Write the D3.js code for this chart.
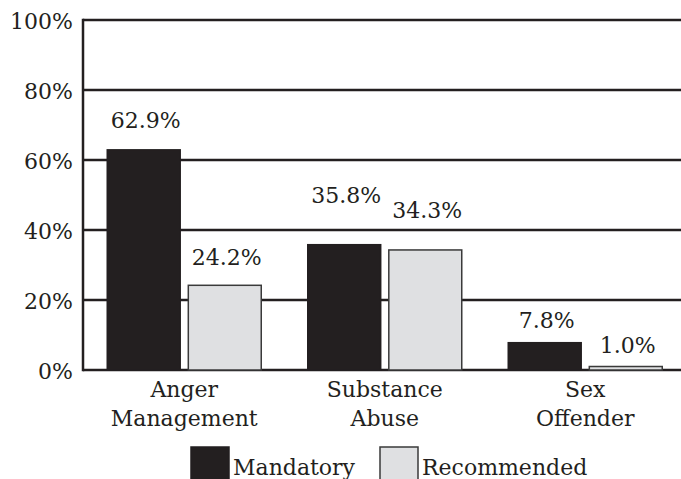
<!DOCTYPE html>
<html>
<head>
<meta charset="utf-8">
<script src="https://cdn.jsdelivr.net/npm/d3@7"></script>
<style>
  html, body { margin: 0; padding: 0; background: #fff; }
  svg { display: block; }
</style>
</head>
<body>
<div id="chart"></div>
<script>
// ── Datos ────────────────────────────────────────────────────────────────
const categories = [["Anger", "Management"], ["Substance", "Abuse"], ["Sex", "Offender"]];
const series = ["Mandatory", "Recommended"];
const mandatory = [62.9, 35.8, 7.8];
const recommended = [24.2, 34.3, 1.0];
const yTicks = [0, 20, 40, 60, 80, 100];

// cuánto sube cada etiqueta sobre su barra (px), en orden de barras
const labelLift = [[22, 20], [42, 32], [15, 14]];

const width = 681;
const height = 479;
const fontSize = 22;
const fontFamily = "'DejaVu Serif', serif";
const ink = "#231f20";
const colors = { Mandatory: "#231f20", Recommended: "#dfe0e2" };
const strokes = { Mandatory: "#231f20", Recommended: "#3a3a3a" };

const svg = d3.select("#chart")
  .append("svg")
  .attr("width", width)
  .attr("height", height)
  .attr("viewBox", [0, 0, width, height])
  .attr("font-family", fontFamily)
  .attr("fill", ink);

// ── Escalas ──────────────────────────────────────────────────────────────
const y = d3.scaleLinear().domain([0, 100]).range([370, 20]);
const keys = categories.map(c => c.join(" "));
const x0 = d3.scaleBand().domain(keys).range([84, 685.5]);
const x1 = d3.scaleBand().domain(series).range([23.25, 177.25]).paddingInner(0.1);

const filas = keys.map((k, i) => ({
  key: k,
  lines: categories[i],
  values: [
    { serie: "Mandatory", v: mandatory[i], lift: labelLift[i][0] },
    { serie: "Recommended", v: recommended[i], lift: labelLift[i][1] },
  ],
}));

// ── Líneas de cuadrícula y eje ───────────────────────────────────────────
svg.append("g")
  .selectAll("line")
  .data(yTicks)
  .join("line")
  .attr("x1", 83)
  .attr("x2", width)
  .attr("y1", d => y(d))
  .attr("y2", d => y(d))
  .attr("stroke", ink)
  .attr("stroke-width", 2.5);

svg.append("line")
  .attr("x1", 83).attr("x2", 83)
  .attr("y1", y(100) - 1.25).attr("y2", y(0) + 1.25)
  .attr("stroke", ink)
  .attr("stroke-width", 2.5);

svg.append("g")
  .selectAll("text")
  .data(yTicks)
  .join("text")
  .attr("x", 73)
  .attr("y", d => y(d) + 9)
  .attr("text-anchor", "end")
  .attr("font-size", fontSize)
  .text(d => `${d}%`);

// ── Barras ───────────────────────────────────────────────────────────────
const grupos = svg.append("g")
  .selectAll("g")
  .data(filas)
  .join("g")
  .attr("transform", d => `translate(${x0(d.key)},0)`);

grupos.selectAll("rect")
  .data(d => d.values)
  .join("rect")
  .attr("x", d => x1(d.serie))
  .attr("y", d => y(d.v))
  .attr("width", x1.bandwidth())
  .attr("height", d => y(0) - y(d.v))
  .attr("fill", d => colors[d.serie])
  .attr("stroke", d => strokes[d.serie])
  .attr("stroke-width", 1.5);

grupos.selectAll("text.valor")
  .data(d => d.values)
  .join("text")
  .attr("class", "valor")
  .attr("x", d => x1(d.serie) + x1.bandwidth() / 2 + 2)
  .attr("y", d => y(d.v) - d.lift)
  .attr("text-anchor", "middle")
  .attr("font-size", fontSize)
  .text(d => `${d.v.toFixed(1)}%`);

// ── Etiquetas de categoría ───────────────────────────────────────────────
svg.append("g")
  .selectAll("text")
  .data(filas)
  .join("text")
  .attr("x", d => x0(d.key) + x0.bandwidth() / 2)
  .attr("y", 397)
  .attr("text-anchor", "middle")
  .attr("font-size", fontSize)
  .selectAll("tspan")
  .data(d => d.lines)
  .join("tspan")
  .attr("x", function () { return d3.select(this.parentNode).attr("x"); })
  .attr("dy", (d, i) => i === 0 ? 0 : 29)
  .text(d => d);

// ── Leyenda ──────────────────────────────────────────────────────────────
const leyenda = svg.append("g")
  .selectAll("g")
  .data(series)
  .join("g")
  .attr("transform", (d, i) => `translate(${i === 0 ? 191 : 380},447)`);

leyenda.append("rect")
  .attr("width", 38)
  .attr("height", 36)
  .attr("fill", d => colors[d])
  .attr("stroke", d => strokes[d])
  .attr("stroke-width", 1.5);

leyenda.append("text")
  .attr("x", 42)
  .attr("y", 28)
  .attr("font-size", fontSize)
  .text(d => d);
</script>
</body>
</html>
